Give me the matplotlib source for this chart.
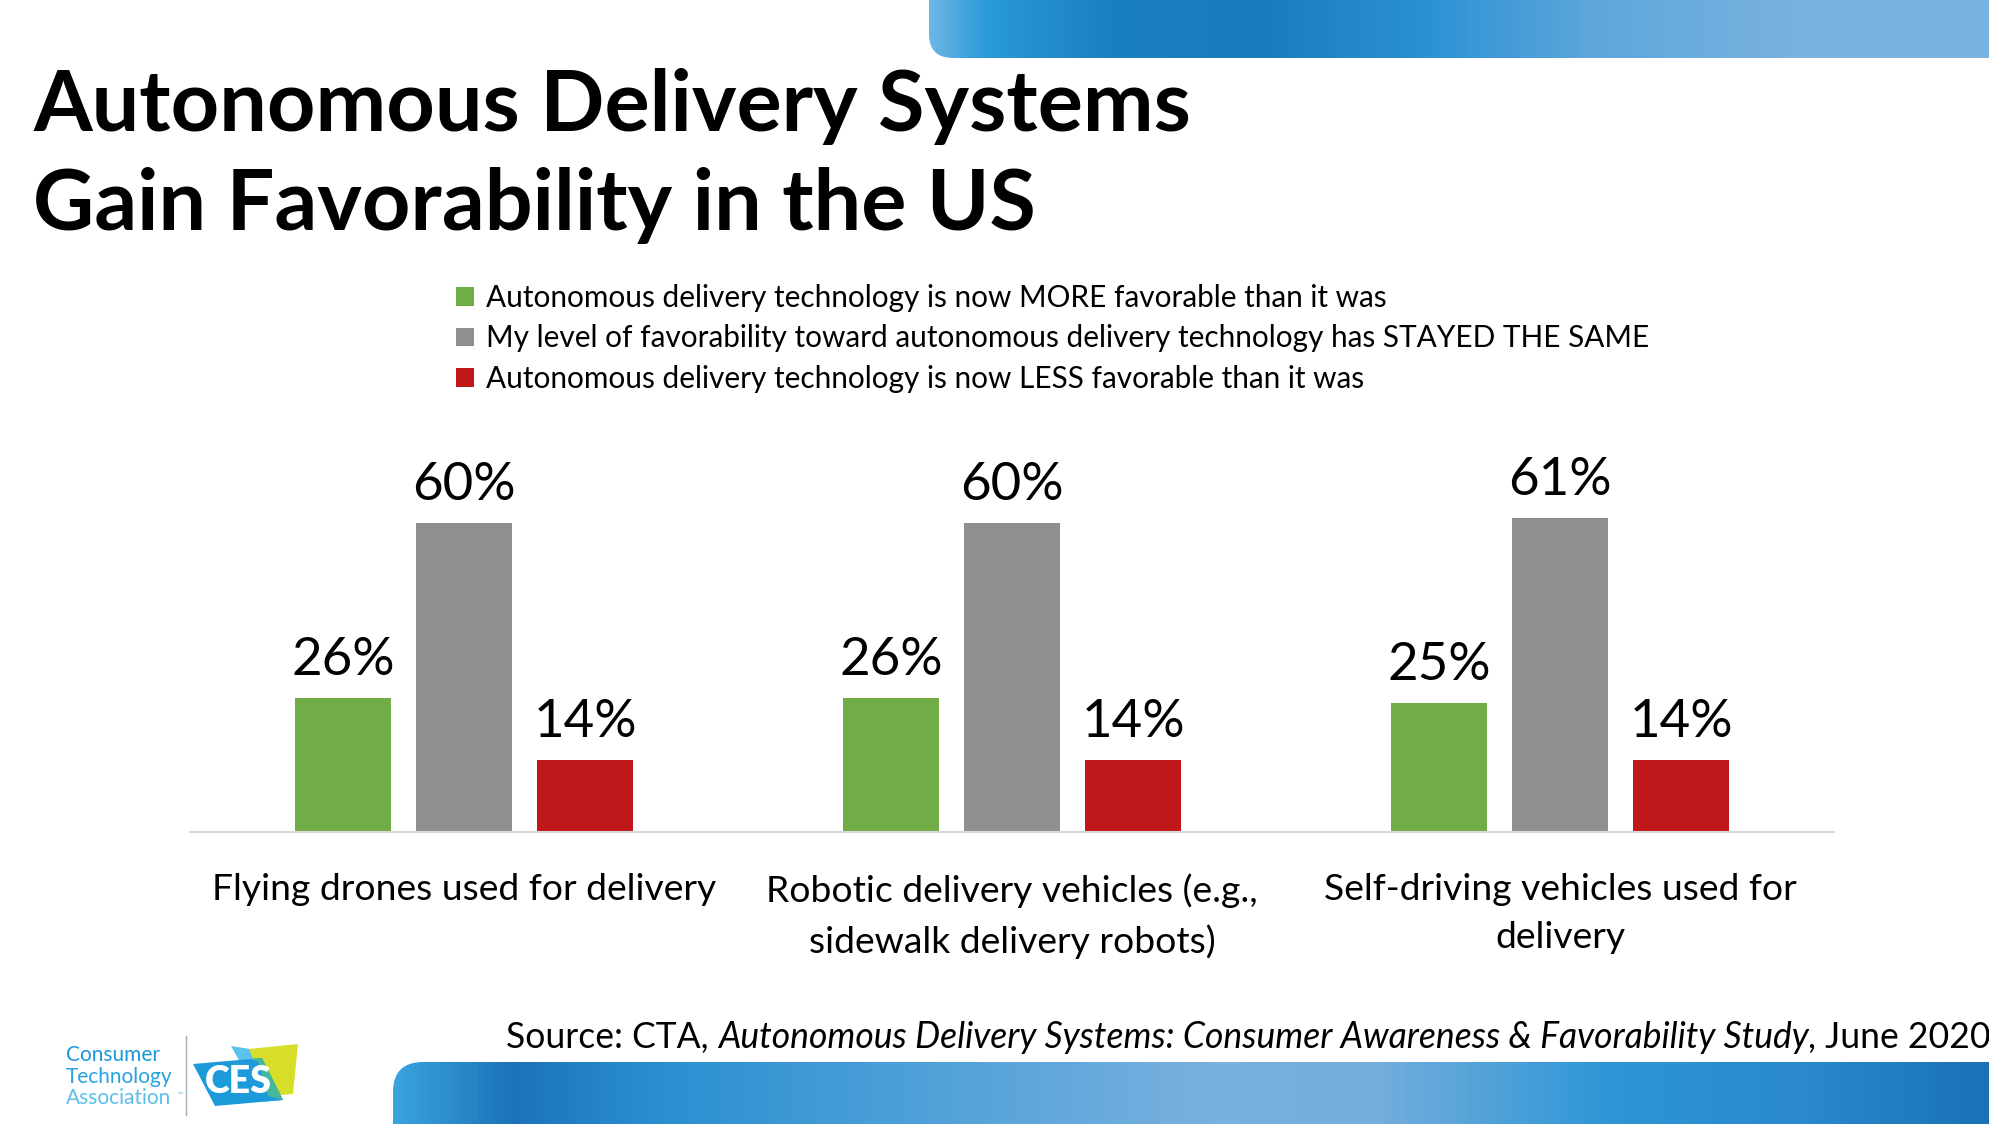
import numpy as np
import matplotlib
matplotlib.use("Agg")
import matplotlib.pyplot as plt
from matplotlib.patches import FancyBboxPatch, Polygon
from matplotlib.colors import LinearSegmentedColormap

# ---------------- data ----------------
categories = ["Flying drones used for delivery",
              "Robotic delivery vehicles (e.g.,\nsidewalk delivery robots)",
              "Self-driving vehicles used for\ndelivery"]
series_names = ["Autonomous delivery technology is now MORE favorable than it was",
                "My level of favorability toward autonomous delivery technology has STAYED THE SAME",
                "Autonomous delivery technology is now LESS favorable than it was"]
more_vals = [26, 26, 25]
same_vals = [60, 60, 61]
less_vals = [14, 14, 14]
series_colors = ["#70ad47", "#8f8f8f", "#c0181a"]

FONT = "Lato"
plt.rcParams['font.family'] = [FONT, 'DejaVu Sans']

W, H = 1990, 1124
fig = plt.figure(figsize=(W / 100, H / 100), dpi=100)
fig.patch.set_facecolor("white")

# ---------------- background decoration (pixel coordinates) ----------------
bg = fig.add_axes([0, 0, 1, 1], zorder=0)
bg.axis("off")


def banner(x0, x1, y0, y1, stops, rounding):
    cmap = LinearSegmentedColormap.from_list("b", stops)
    grad = np.linspace(0, 1, 512)[None, :]
    im = bg.imshow(grad, cmap=cmap, extent=[x0, x1, y1, y0], aspect="auto",
                   interpolation="bicubic", zorder=1)
    patch = FancyBboxPatch((x0, y0), x1 - x0, y1 - y0,
                           boxstyle=f"round,pad=0,rounding_size={rounding}",
                           transform=bg.transData, facecolor="none", edgecolor="none")
    bg.add_patch(patch)
    im.set_clip_path(patch)


banner(929, 2040, -60, 58,
       [(0.0, "#6cb6e4"), (0.05, "#2a9ad8"), (0.16, "#1b80c2"), (0.3, "#1a7bbf"),
        (0.45, "#2c92d3"), (0.6, "#5ea7db"), (0.8, "#7bb3e1"), (1.0, "#78b2e0")], 24)
banner(393, 2040, 1062, 1200,
       [(0.0, "#3aa2dd"), (0.07, "#1c73b9"), (0.16, "#2a8fd0"), (0.3, "#4a9fd8"),
        (0.5, "#79b1df"), (0.6, "#72addc"), (0.74, "#2e96d6"), (0.86, "#2a88cc"),
        (1.0, "#156cb0")], 30)

# logo
bg.text(66, 1055, "Consumer", color="#1a98d8", fontsize=15, va="center", ha="left")
bg.text(66, 1077, "Technology", color="#27a3df", fontsize=15, va="center", ha="left")
bg.text(66, 1098, "Association", color="#5bbfea", fontsize=15, va="center", ha="left")
bg.text(178, 1094, "™", color="#5bbfea", fontsize=5, va="center", ha="left")
bg.plot([186, 186], [1036, 1115], color="#b0b0b0", lw=1, zorder=2)
bg.add_patch(Polygon([(231, 1046), (250, 1049), (283, 1100), (262, 1102)],
                     closed=True, facecolor="#5bc2ee", edgecolor="none", zorder=2))
bg.add_patch(Polygon([(249, 1049), (298, 1044), (293, 1094), (268, 1096)],
                     closed=True, facecolor="#d7de2a", edgecolor="none", zorder=3))
bg.add_patch(Polygon([(193, 1064), (262, 1058), (283, 1100), (215, 1106)],
                     closed=True, facecolor="#1d9ad9", edgecolor="none", zorder=4))
bg.add_patch(Polygon([(251, 1059), (262, 1058), (283, 1100), (268, 1096), (258, 1062)],
                     closed=True, facecolor="#45b79a", edgecolor="none", zorder=5))
bg.text(238, 1082, "CES", color="white", fontsize=27, fontweight="heavy",
        ha="center", va="center", zorder=6)

bg.set_xlim(0, W)
bg.set_ylim(H, 0)

# ---------------- title ----------------
fig.text(33 / W, 1 - 131 / H, "Autonomous Delivery Systems", fontsize=60.8,
         fontweight="bold", ha="left", va="baseline")
fig.text(33 / W, 1 - 230 / H, "Gain Favorability in the US", fontsize=60.8,
         fontweight="bold", ha="left", va="baseline")

# ---------------- chart ----------------
ax = fig.add_axes([190 / W, 1 - 832 / H, 1644 / W, 515 / H], zorder=2)
ax.set_facecolor("none")
x = np.arange(len(categories))
pitch, width = 0.221, 0.175
handles = []
for i, (vals, col, name) in enumerate(zip([more_vals, same_vals, less_vals],
                                          series_colors, series_names)):
    bars = ax.bar(x + (i - 1) * pitch, vals, width=width, color=col, label=name)
    ax.bar_label(bars, labels=[f"{v}%" for v in vals], padding=10, fontsize=38)
    handles.append(bars)

ax.set_xlim(-0.5, 2.5)
ax.set_ylim(0, 100)
ax.set_yticks([])
ax.set_xticks(x)
ax.set_xticklabels(categories, fontsize=26.8, linespacing=1.57)
ax.tick_params(axis="x", length=0, pad=29.5)
for s in ["top", "left", "right"]:
    ax.spines[s].set_visible(False)
ax.spines["bottom"].set_color("#d9d9d9")
ax.spines["bottom"].set_linewidth(1.5)

fig.legend(handles=handles, labels=series_names, loc="upper left",
           bbox_to_anchor=(456 / W, 1 - 284 / H), frameon=False, fontsize=21.4,
           handlelength=0.6, handleheight=0.6, handletextpad=0.4,
           labelspacing=0.42, borderpad=0, borderaxespad=0)

# ---------------- source ----------------
SRC_Y = 1 - 1048 / H
t1 = fig.text(506 / W, SRC_Y, "Source: CTA, ", fontsize=25.6, ha="left", va="baseline")
t2 = fig.text(0, SRC_Y, "Autonomous Delivery Systems: Consumer Awareness & Favorability Study",
              fontsize=25.6, style="italic", ha="left", va="baseline")
fig.canvas.draw()
bb = t1.get_window_extent()
t2.set_position((bb.x1 / W, SRC_Y))
fig.canvas.draw()
bb2 = t2.get_window_extent()
fig.text(bb2.x1 / W, SRC_Y, ", June 2020", fontsize=25.6, ha="left", va="baseline")

fig.savefig("out.png", dpi=100)
